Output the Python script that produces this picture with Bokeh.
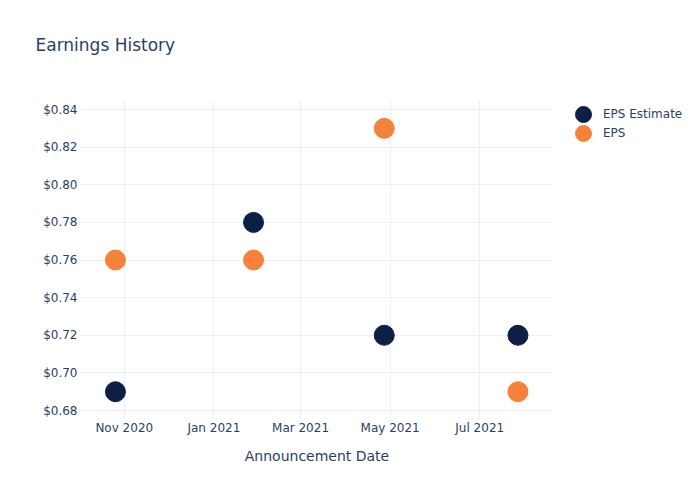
from datetime import datetime
from bokeh.plotting import figure
from bokeh.layouts import row, column
from bokeh.models import (ColumnDataSource, FixedTicker, DatetimeTickFormatter,
                          NumeralTickFormatter, Legend, LegendItem, Range1d, Label)
from bokeh.embed import file_html
from bokeh.resources import INLINE

# ---- data ----
dates = [datetime(2020, 10, 26), datetime(2021, 1, 28), datetime(2021, 4, 27), datetime(2021, 7, 27)]
eps_estimate = [0.69, 0.78, 0.72, 0.72]
eps_actual = [0.76, 0.76, 0.83, 0.69]
series_names = ["EPS Estimate", "EPS"]
y_ticks = [0.68, 0.70, 0.72, 0.74, 0.76, 0.78, 0.80, 0.82, 0.84]
x_tick_dates = [datetime(2020, 11, 1), datetime(2021, 1, 1), datetime(2021, 3, 1),
                datetime(2021, 5, 1), datetime(2021, 7, 1)]
title_text = "Earnings History"
x_label = "Announcement Date"

FONT = "DejaVu Sans"
TXT = "#2a3f5f"
GRID = "#ebf0f8"
C_EST = "#0c1f45"
C_EPS = "#f5813a"
colors = [C_EST, C_EPS]

src = ColumnDataSource(dict(date=dates, est=eps_estimate, eps=eps_actual))


def blank(fig):
    fig.background_fill_color = "white"
    fig.border_fill_color = "white"
    fig.outline_line_color = None
    fig.grid.visible = False


# ---- title strip ----
p0 = figure(width=700, height=100, output_backend="svg", toolbar_location=None,
            x_range=Range1d(0, 1), y_range=Range1d(0, 1),
            x_axis_location=None, y_axis_location=None, min_border=0)
blank(p0)
p0.add_layout(Label(x=35, y=56, x_units="screen", y_units="screen", text=title_text,
                    text_font=FONT, text_font_size="17px", text_color=TXT,
                    text_align="left", text_baseline="middle"))

# ---- main plot ----
p = figure(width=553, height=400, x_axis_type="datetime", output_backend="svg",
           toolbar_location=None,
           x_range=Range1d(datetime(2020, 10, 2, 5), datetime(2021, 8, 20, 5)),
           y_range=Range1d(0.6747, 0.8448),
           min_border_left=80, min_border_right=0, min_border_top=0, min_border_bottom=80)
p.background_fill_color = "white"
p.border_fill_color = "white"
p.outline_line_color = None

p.scatter("date", "est", source=src, size=20, color=C_EST, line_color=C_EST)
p.scatter("date", "eps", source=src, size=20, color=C_EPS, line_color=C_EPS)

for ax in (p.xaxis[0], p.yaxis[0]):
    ax.axis_line_color = None
    ax.major_tick_line_color = None
    ax.minor_tick_line_color = None
    ax.major_tick_out = 0
    ax.major_tick_in = 0
    ax.major_label_text_color = TXT
    ax.major_label_text_font = FONT
    ax.major_label_text_font_size = "12px"

p.xaxis.ticker = FixedTicker(ticks=[d.timestamp() * 1000 for d in x_tick_dates])
p.xaxis.formatter = DatetimeTickFormatter(months="%b %Y", days="%b %Y")
p.xaxis.major_label_standoff = 0
p.xaxis.axis_label = x_label
p.xaxis.axis_label_text_font = FONT
p.xaxis.axis_label_text_font_size = "14px"
p.xaxis.axis_label_text_font_style = "normal"
p.xaxis.axis_label_text_color = TXT
p.xaxis.axis_label_standoff = 10

p.yaxis.ticker = FixedTicker(ticks=y_ticks)
p.yaxis.formatter = NumeralTickFormatter(format="$0.00")
p.yaxis.major_label_standoff = 3

p.xgrid.grid_line_color = GRID
p.ygrid.grid_line_color = GRID

# ---- legend strip ----
p2 = figure(width=147, height=400, output_backend="svg", toolbar_location=None,
            x_range=Range1d(0, 1), y_range=Range1d(0, 1),
            x_axis_location=None, y_axis_location=None, min_border=0)
blank(p2)
# legend-only renderers (their data lie outside this strip's ranges, so only the legend shows them)
leg_r = [p2.scatter("date", col, source=src, size=20, color=c)
         for col, c in zip(["est", "eps"], colors)]
for i, (name, r) in enumerate(zip(series_names, leg_r)):
    p2.add_layout(Legend(items=[LegendItem(label=name, renderers=[r])],
                         location=(10, 286 - 19 * i),
                         glyph_width=40, glyph_height=40, label_standoff=0,
                         padding=0, margin=0, spacing=0,
                         background_fill_alpha=0, border_line_alpha=0,
                         label_text_font=FONT, label_text_font_size="12px",
                         label_text_color=TXT))

layout = column(p0, row(p, p2))
open("out.html", "w").write(file_html(layout, INLINE))
